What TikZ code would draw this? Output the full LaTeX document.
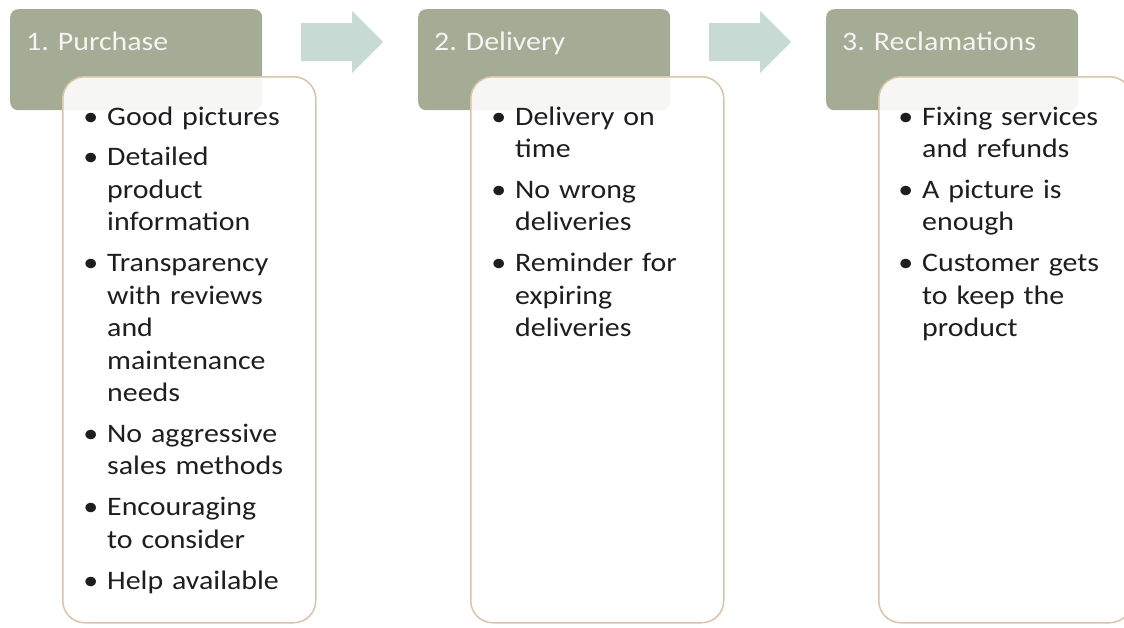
\documentclass[tikz,border=0pt]{standalone}
\usepackage{fontspec}
\setmainfont{Carlito}[FakeStretch=1.12]
\usetikzlibrary{positioning}

\definecolor{headgreen}{RGB}{165,172,150}
\definecolor{titlewhite}{RGB}{244,244,240}
\definecolor{cardline}{RGB}{216,196,168}
\definecolor{listtext}{RGB}{30,30,30}
\definecolor{flowgrey}{RGB}{200,218,212}

% one bullet point, the bullet hangs left of the text
\newcommand{\bitem}{\par\noindent\llap{\textbullet\hspace{9pt}}\rule{0pt}{20pt}}

\tikzset{
  head/.style={fill=headgreen, rounded corners=8pt, minimum width=252pt,
    minimum height=101pt, anchor=north west, inner sep=0pt},
  title/.style={anchor=base west, inner sep=0pt, text=titlewhite,
    font=\fontsize{26.7}{32.5}\selectfont},
  card/.style={draw=cardline, line width=1.5pt, fill=white, fill opacity=0.9,
    rounded corners=22pt, minimum width=253pt, minimum height=546pt,
    anchor=north west, inner sep=0pt},
  list/.style={anchor=north west, inner sep=0pt, text width=230pt, align=left,
    text=listtext, font=\fontsize{26.7}{32.5}\selectfont\setlength{\parskip}{8.3pt}},
  flow/.style={fill=flowgrey}
}

\begin{document}
\begin{tikzpicture}[x=1pt,y=-1pt]
\path[use as bounding box,clip] (0,0) rectangle (1124,627);

% step headers
\node[head] (h1) at (10,9) {};
\node[head] (h2) at (418,9) {};
\node[head] (h3) at (826,9) {};
\node[title] (t1) at ([xshift=16pt,yshift=-41pt]h1.north west) {1. Purchase};
\node[title] (t2) at ([xshift=16pt,yshift=-41pt]h2.north west) {2. Delivery};
\node[title] (t3) at ([xshift=16pt,yshift=-41pt]h3.north west) {3. Reclamations};

% block arrows between the headers
\coordinate (a1) at (301,42);
\coordinate (a2) at (709,42);
\fill[flow] (a1) ++(0,-19) -- ++(51,0) -- ++(0,-12) -- ++(31,31)
  -- ++(-31,31) -- ++(0,-12) -- ++(-51,0) -- cycle;
\fill[flow] (a2) ++(0,-19) -- ++(51,0) -- ++(0,-12) -- ++(31,31)
  -- ++(-31,31) -- ++(0,-12) -- ++(-51,0) -- cycle;

% cards with the points
\node[card] (b1) at (62,76) {};
\node[card] (b2) at (470,76) {};
\node[card] (b3) at (878,76) {};

\node[list] (l1) at ([xshift=45pt,yshift=-8pt]b1.north west) {%
  \bitem Good pictures
  \bitem Detailed\\ product\\ information
  \bitem Transparency\\ with reviews\\ and\\ maintenance\\ needs
  \bitem No aggressive\\ sales methods
  \bitem Encouraging\\ to consider
  \bitem Help available};
\node[list] (l2) at ([xshift=45pt,yshift=-8pt]b2.north west) {%
  \bitem Delivery on\\ time
  \bitem No wrong\\ deliveries
  \bitem Reminder for\\ expiring\\ deliveries};
\node[list] (l3) at ([xshift=44pt,yshift=-8pt]b3.north west) {%
  \bitem Fixing services\\ and refunds
  \bitem A picture is\\ enough
  \bitem Customer gets\\ to keep the\\ product};
\end{tikzpicture}
\end{document}
